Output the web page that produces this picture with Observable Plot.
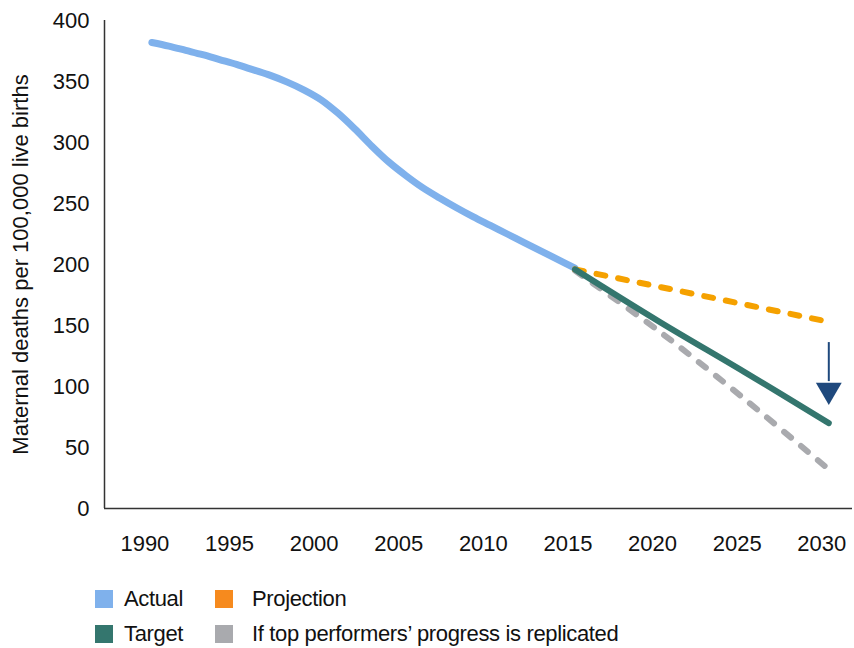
<!DOCTYPE html>
<html>
<head>
<meta charset="utf-8">
<script src="https://cdn.jsdelivr.net/npm/d3@7"></script>
<script src="https://cdn.jsdelivr.net/npm/@observablehq/plot@0.6"></script>
<style>
  body { margin: 0; background: #fff; font-family: "Liberation Sans", Arial, sans-serif; }
  #wrap { position: relative; width: 854px; height: 648px; }
  #legend { position: absolute; left: 95px; top: 581px; font-size: 22px; color: #111; letter-spacing: -0.35px; }
  .row { display: flex; height: 35px; align-items: center; }
  .item { display: flex; align-items: center; }
  .sw { width: 18px; height: 18px; margin-right: 11px; }
</style>
</head>
<body>
<div id="wrap">
  <div id="chart"></div>
  <div id="legend"></div>
</div>
<script>
// ---- data ----
const actualYears  = [1990,1991,1992,1993,1994,1995,1996,1997,1998,1999,2000,2001,2002,2003,2004,2005,2006,2007,2008,2009,2010,2011,2012,2013,2014,2015];
const actualValues = [382,379,375.5,372,368,364,359.5,355,349.5,343,335,324,311,297,284,273,263,254.5,246.5,239,232,225,218,211,204,197];
const projectionYears  = [2015, 2030];
const projectionValues = [196, 153];
const targetYears  = [2015, 2020, 2025, 2030];
const targetValues = [196, 153, 112, 70];
const topPerfYears  = [2015, 2020, 2025, 2030];
const topPerfValues = [195, 145, 90, 32];
const arrowYear = 2030;
const arrowFrom = 136;
const arrowTo = 104;
const arrowHead = 97;
const xTicks = [1990,1995,2000,2005,2010,2015,2020,2025,2030];
const yTicks = [0,50,100,150,200,250,300,350,400];
const seriesNames  = ["Actual", "Projection", "Target", "If top performers\u2019 progress is replicated"];
const seriesColors = ["#7fb1ec", "#f68a1e", "#34766e", "#a9aaae"];

const zip = (xs, ys) => xs.map((x, i) => ({year: x, value: ys[i]}));
const actualData = zip(actualYears, actualValues);
const projectionData = zip(projectionYears, projectionValues);
const targetData = zip(targetYears, targetValues);
const topPerfData = zip(topPerfYears, topPerfValues);

const font = "'Liberation Sans', Arial, sans-serif";

const chart = Plot.plot({
  width: 854,
  height: 572,
  marginLeft: 104,
  marginRight: 2,
  marginTop: 20,
  marginBottom: 64,
  style: { fontFamily: font, fontSize: "22px", color: "#111", background: "#fff" },
  x: { domain: [1987.2, 2031.4] },
  y: { domain: [0, 400] },
  marks: [
    Plot.axisX({ ticks: xTicks, tickFormat: d => String(d), tickSize: 0, tickPadding: 27, dx: -7, label: null, fontSize: 22 }),
    Plot.axisY({ ticks: yTicks, tickSize: 0, tickPadding: 15, fontSize: 22, label: "Maternal deaths per 100,000 live births", labelAnchor: "center", labelArrow: "none", labelOffset: 92 }),
    Plot.ruleY([0], { stroke: "#333", strokeWidth: 1.5 }),
    Plot.ruleX([1987.2], { y1: 0, y2: 400, stroke: "#333", strokeWidth: 1.5 }),
    Plot.line(actualData, { x: "year", y: "value", stroke: seriesColors[0], strokeWidth: 7, curve: "catmull-rom", strokeLinecap: "round" }),
    Plot.line(topPerfData, { x: "year", y: "value", stroke: seriesColors[3], strokeWidth: 6, curve: "catmull-rom", strokeDasharray: "9,13", strokeLinecap: "round" }),
    Plot.line(projectionData, { x: "year", y: "value", stroke: "#f5a100", strokeWidth: 6, strokeDasharray: "9,13", strokeLinecap: "round" }),
    Plot.line(targetData, { x: "year", y: "value", stroke: seriesColors[2], strokeWidth: 6, curve: "catmull-rom", strokeLinecap: "round" }),
    Plot.ruleX([arrowYear], { y1: arrowFrom, y2: arrowTo, stroke: "#1f497d", strokeWidth: 2 }),
    Plot.dot([arrowYear], { x: d => d, y: () => arrowHead, symbol: "triangle", r: 9.6, rotate: 180, fill: "#1f497d", stroke: "none" })
  ]
});
document.getElementById("chart").appendChild(chart);
chart.querySelectorAll("text").forEach(t => t.setAttribute("fill", "#111"));

// ---- legend ----
const legend = document.getElementById("legend");
const rows = [[0, 1], [2, 3]];
rows.forEach(r => {
  const row = document.createElement("div");
  row.className = "row";
  r.forEach((idx, j) => {
    const it = document.createElement("div");
    it.className = "item";
    if (j === 0) it.style.width = "120px";
    const sw = document.createElement("div");
    sw.className = "sw";
    if (j === 1) sw.style.marginRight = "19px";
    sw.style.background = seriesColors[idx];
    const tx = document.createElement("span");
    tx.textContent = seriesNames[idx];
    it.appendChild(sw); it.appendChild(tx);
    row.appendChild(it);
  });
  legend.appendChild(row);
});
</script>
</body>
</html>
